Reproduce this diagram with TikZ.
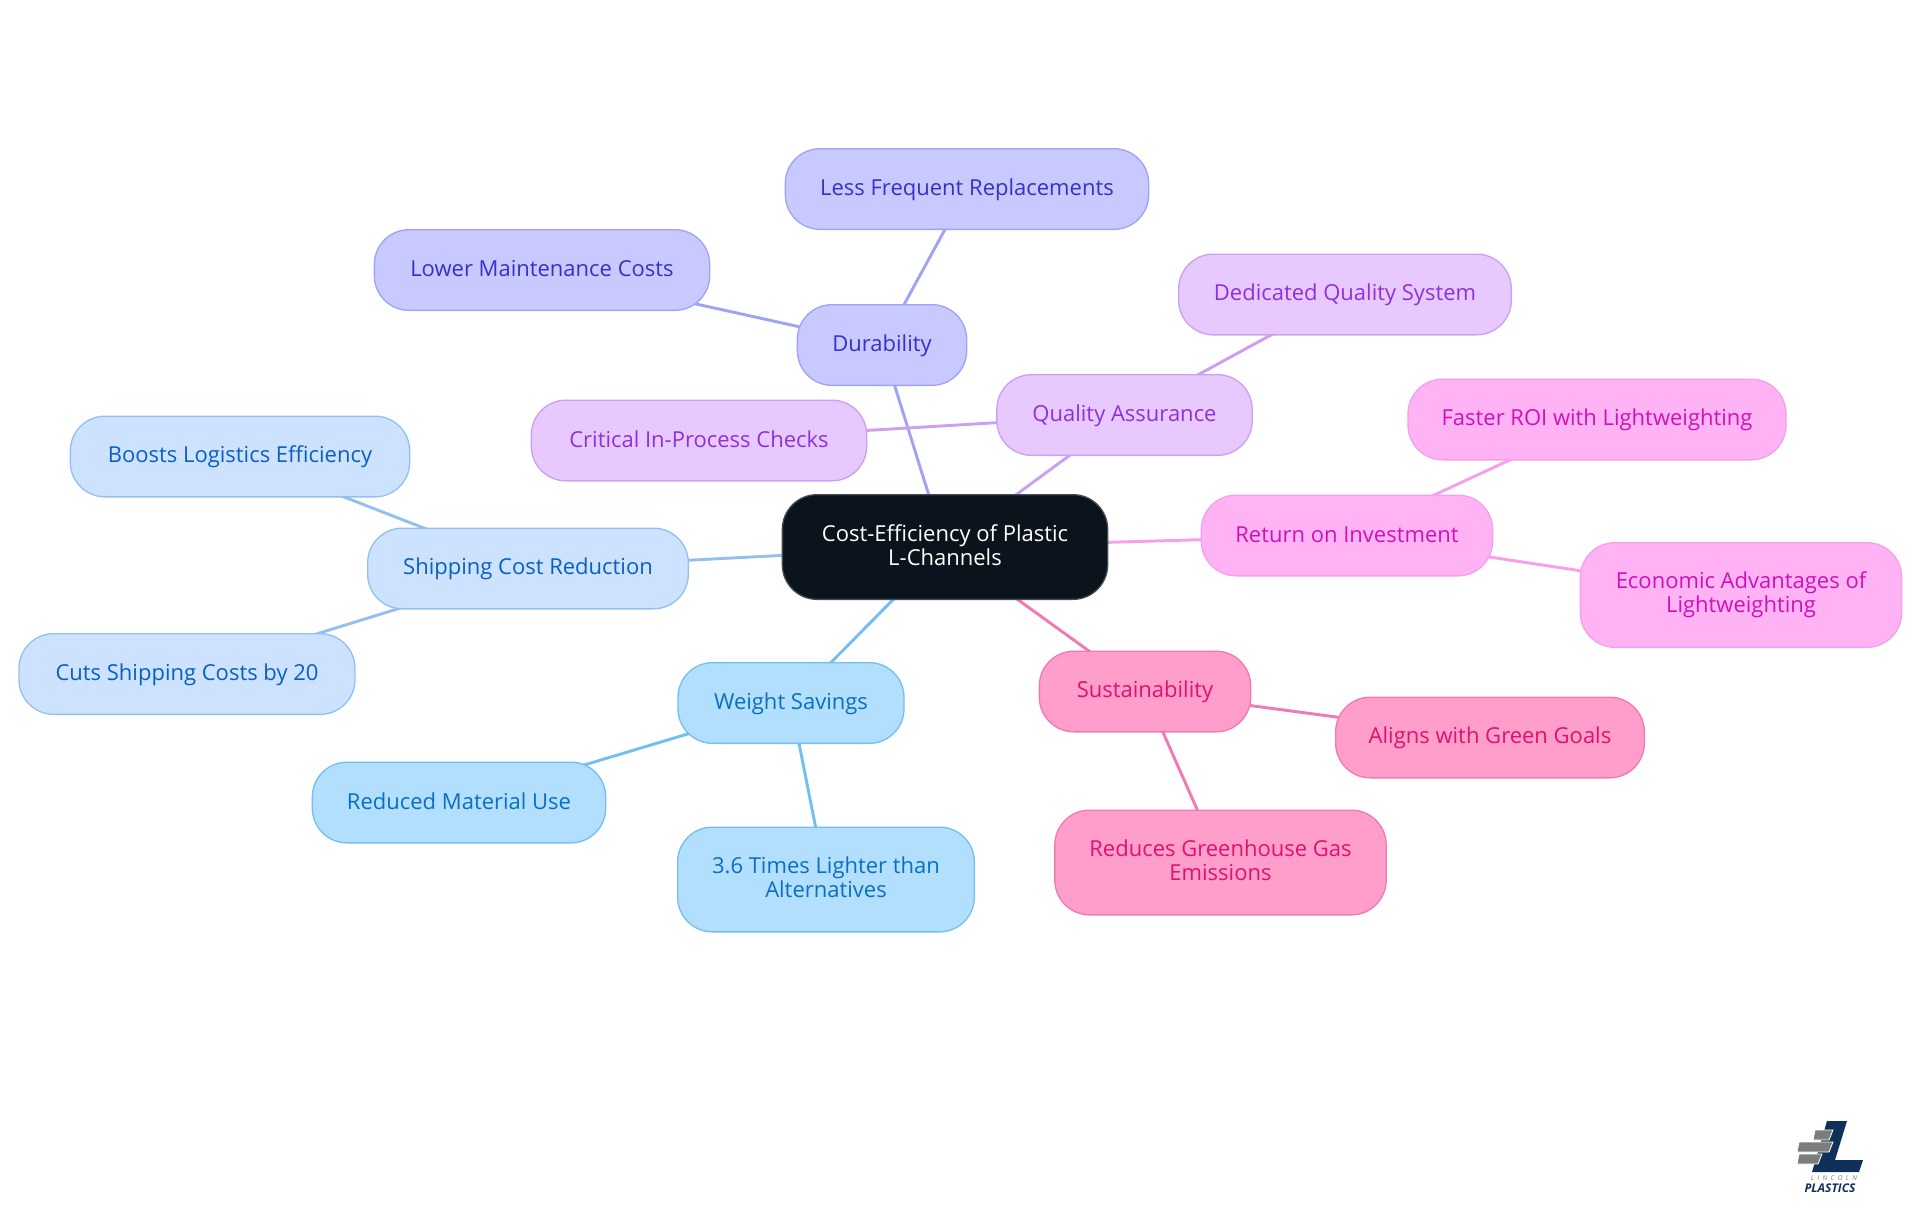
\documentclass[tikz,border=0pt]{standalone}
\usepackage{fontspec}
\setmainfont{Open Sans}
\usetikzlibrary{backgrounds}
\definecolor{rootfill}{RGB}{11, 19, 28}
\definecolor{rootline}{RGB}{70, 74, 80}
\definecolor{durfill}{RGB}{200, 201, 255}
\definecolor{durline}{RGB}{160, 163, 245}
\definecolor{durtext}{RGB}{55, 48, 205}
\definecolor{qualfill}{RGB}{231, 201, 255}
\definecolor{qualline}{RGB}{204, 160, 240}
\definecolor{qualtext}{RGB}{144, 48, 217}
\definecolor{roifill}{RGB}{255, 179, 245}
\definecolor{roiline}{RGB}{245, 160, 232}
\definecolor{roitext}{RGB}{209, 17, 184}
\definecolor{susfill}{RGB}{255, 158, 203}
\definecolor{susline}{RGB}{240, 122, 179}
\definecolor{sustext}{RGB}{224, 17, 111}
\definecolor{wgtfill}{RGB}{179, 223, 255}
\definecolor{wgtline}{RGB}{116, 191, 240}
\definecolor{wgttext}{RGB}{10, 111, 194}
\definecolor{shipfill}{RGB}{204, 226, 255}
\definecolor{shipline}{RGB}{148, 192, 240}
\definecolor{shiptext}{RGB}{10, 95, 194}
\definecolor{logonavy}{RGB}{15, 48, 88}
\definecolor{logogray}{RGB}{125, 125, 128}
\newcommand{\mapstrut}{\rule[-3.6pt]{0pt}{17pt}}
\newcommand{\tallstrut}{\rule[-3.6pt]{0pt}{14.8pt}}

\tikzset{
    mapbox/.style={rounded corners=26pt, line width=1pt, align=center, minimum height=60.5pt, inner sep=0pt, font=\fontsize{16.5}{18}\selectfont, execute at begin node=\mapstrut, execute at end node=\mapstrut},
    tallbox/.style={mapbox, minimum height=78.5pt, execute at begin node=\tallstrut, execute at end node=\tallstrut},
    mapedge/.style={line width=2.2pt},
    logobrick/.style={fill=logogray, draw=white, line width=0.6pt},
    durbox/.style={draw=durline, fill=durfill, text=durtext},
    qualbox/.style={draw=qualline, fill=qualfill, text=qualtext},
    roibox/.style={draw=roiline, fill=roifill, text=roitext},
    susbox/.style={draw=susline, fill=susfill, text=sustext},
    wgtbox/.style={draw=wgtline, fill=wgtfill, text=wgttext},
    shipbox/.style={draw=shipline, fill=shipfill, text=shiptext}
}

\begin{document}
\begin{tikzpicture}[x=0.75pt, y=-0.75pt]
    \useasboundingbox (0,0) rectangle (1920,1215);

    % Central Node
    \node[tallbox, draw=rootline, fill=rootfill, text=white, minimum width=244pt] (root) at (945, 547) {Cost-Efficiency of Plastic\\L-Channels};

    % Durability
    \node[mapbox, durbox, minimum width=127pt] (dur) at (882, 345) {Durability};
    \node[mapbox, durbox, minimum width=272.5pt] (durA) at (967, 189) {Less Frequent Replacements};
    \node[mapbox, durbox, minimum width=251.5pt] (durB) at (542, 270) {Lower Maintenance Costs};

    % Quality
    \node[mapbox, qualbox, minimum width=191.5pt] (qual) at (1124.5, 415) {Quality Assurance};
    \node[mapbox, qualbox, minimum width=249.5pt] (qualA) at (1345, 294.5) {Dedicated Quality System};
    \node[mapbox, qualbox, minimum width=251.5pt] (qualB) at (699, 440.5) {Critical In-Process Checks};

    % Return on Investment
    \node[mapbox, roibox, minimum width=218.5pt] (roi) at (1347, 535.5) {Return on Investment};
    \node[mapbox, roibox, minimum width=283.5pt] (roiA) at (1597, 419.5) {Faster ROI with Lightweighting};
    \node[tallbox, roibox, minimum width=241pt] (roiB) at (1741, 595) {Economic Advantages of\\Lightweighting};

    % Sustainability
    \node[mapbox, susbox, minimum width=158.5pt] (sus) at (1145, 691.5) {Sustainability};
    \node[mapbox, susbox, minimum width=231.5pt] (susA) at (1490, 737.5) {Aligns with Green Goals};
    \node[tallbox, susbox, minimum width=248.5pt] (susB) at (1220.5, 862.5) {Reduces Greenhouse Gas\\Emissions};

    % Weight Savings
    \node[mapbox, wgtbox, minimum width=169.5pt] (wgt) at (791, 703) {Weight Savings};
    \node[tallbox, wgtbox, minimum width=222.5pt] (wgtA) at (826, 879.5) {3.6 Times Lighter than\\Alternatives};
    \node[mapbox, wgtbox, minimum width=220pt] (wgtB) at (459, 802.5) {Reduced Material Use};

    % Shipping
    \node[mapbox, shipbox, minimum width=240.5pt] (ship) at (528, 568.5) {Shipping Cost Reduction};
    \node[mapbox, shipbox, minimum width=254.5pt] (shipA) at (240, 456.5) {Boosts Logistics Efficiency};
    \node[mapbox, shipbox, minimum width=252pt] (shipB) at (187, 674) {Cuts Shipping Costs by 20};

    % Connectors
    \begin{scope}[on background layer]
        \draw[mapedge, durline] (root.center) -- (dur.center);
        \draw[mapedge, durline] (dur.center) -- (durA.center);
        \draw[mapedge, durline] (dur.center) -- (durB.center);
        \draw[mapedge, qualline] (root.center) -- (qual.center);
        \draw[mapedge, qualline] (qual.center) -- (qualA.center);
        \draw[mapedge, qualline] (qual.center) -- (qualB.center);
        \draw[mapedge, roiline] (root.center) -- (roi.center);
        \draw[mapedge, roiline] (roi.center) -- (roiA.center);
        \draw[mapedge, roiline] (roi.center) -- (roiB.center);
        \draw[mapedge, susline] (root.center) -- (sus.center);
        \draw[mapedge, susline] (sus.center) -- (susA.center);
        \draw[mapedge, susline] (sus.center) -- (susB.center);
        \draw[mapedge, wgtline] (root.center) -- (wgt.center);
        \draw[mapedge, wgtline] (wgt.center) -- (wgtA.center);
        \draw[mapedge, wgtline] (wgt.center) -- (wgtB.center);
        \draw[mapedge, shipline] (root.center) -- (ship.center);
        \draw[mapedge, shipline] (ship.center) -- (shipA.center);
        \draw[mapedge, shipline] (ship.center) -- (shipB.center);
    \end{scope}

    % Logo
    \fill[logonavy] (1827, 1121) -- (1847, 1121) -- (1835, 1160) -- (1863, 1160) -- (1859, 1172) -- (1812, 1172) -- cycle;
    \path[logobrick] (1815, 1130) -- (1833, 1130) -- (1829, 1140) -- (1813, 1140) -- cycle;
    \path[logobrick] (1799, 1142) -- (1833, 1142) -- (1829, 1152) -- (1797, 1152) -- cycle;
    \path[logobrick] (1799, 1154) -- (1822, 1154) -- (1818, 1164) -- (1797, 1164) -- cycle;
    \node[inner sep=0pt, text=logogray, font=\fontsize{5}{5}\selectfont\itshape] (logoA) at (1834, 1178) {L\,\,\,I\,\,\,N\,\,\,C\,\,\,O\,\,\,L\,\,\,N};
    \node[inner sep=0pt, text=logonavy, font=\fontsize{9}{9}\selectfont\bfseries\itshape] (logoB) at (1830, 1188) {PLASTICS};
\end{tikzpicture}
\end{document}
